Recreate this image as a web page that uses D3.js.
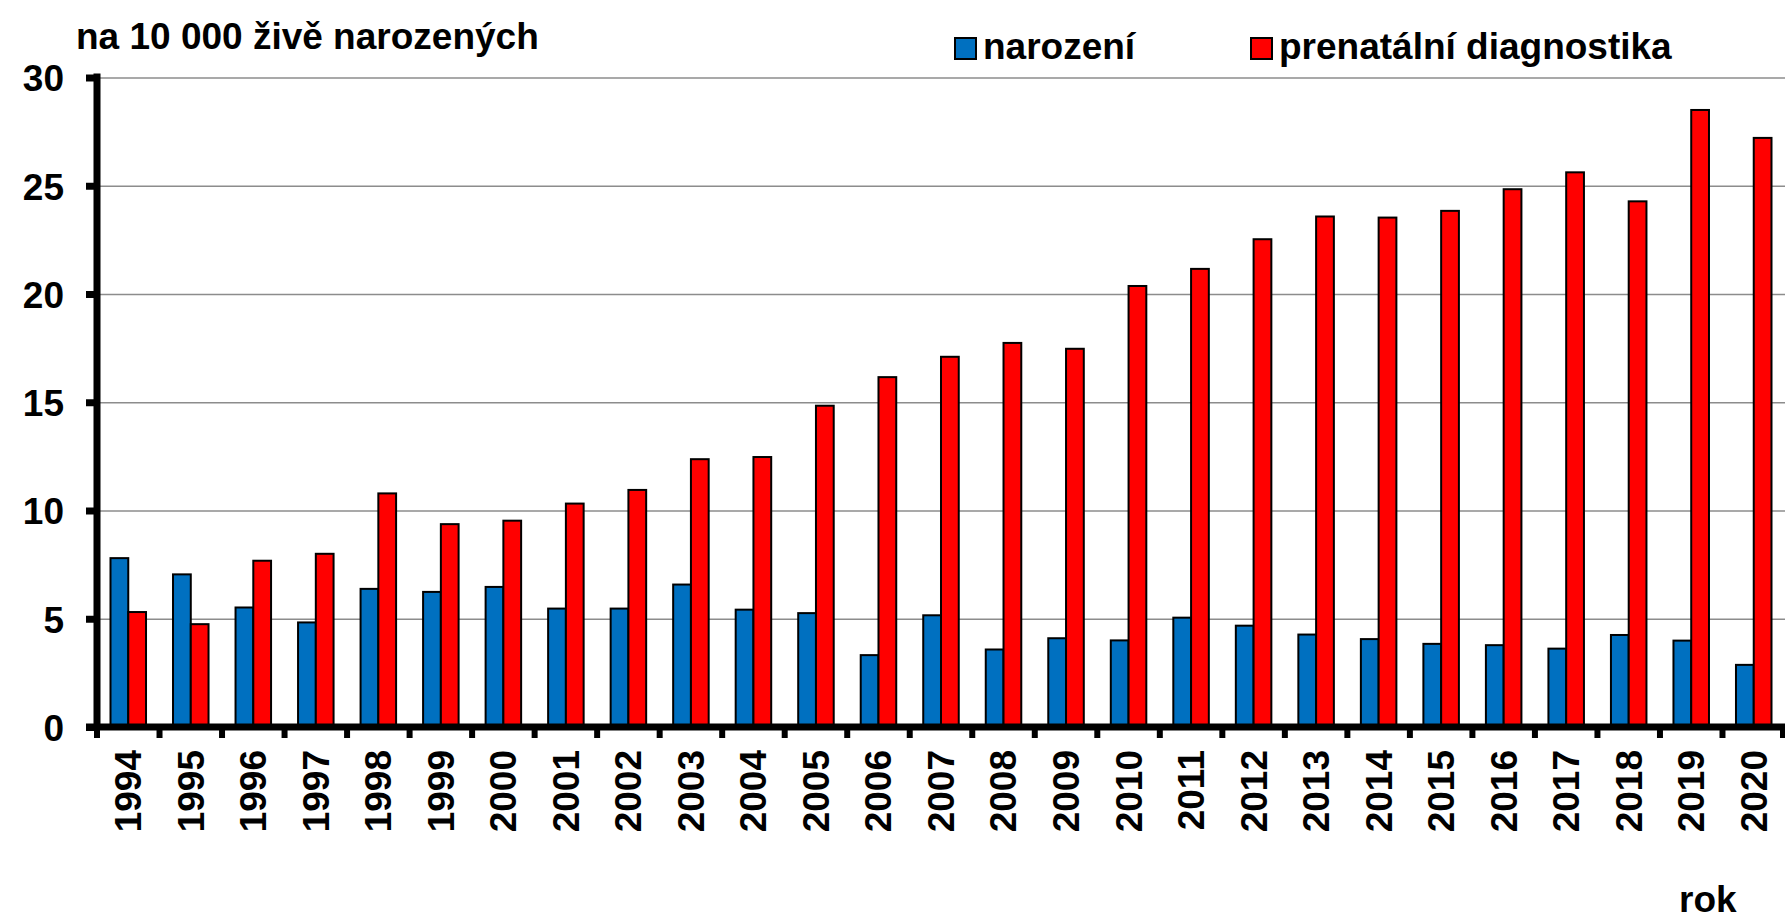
<!DOCTYPE html>
<html>
<head>
<meta charset="utf-8">
<script src="https://cdn.jsdelivr.net/npm/d3@7"></script>
<style>
  body { margin: 0; background: #fff; }
  text { font-family: "Liberation Sans", Arial, sans-serif; font-weight: bold; fill: #000; }
</style>
</head>
<body>
<div id="chart"></div>
<script>
// data
const years = ['1994', '1995', '1996', '1997', '1998', '1999', '2000', '2001', '2002', '2003',
    '2004', '2005', '2006', '2007', '2008', '2009', '2010', '2011', '2012', '2013',
    '2014', '2015', '2016', '2017', '2018', '2019', '2020'];
const narozeni = [7.8, 7.05, 5.52, 4.83, 6.38, 6.24, 6.47, 5.47, 5.47, 6.58,
    5.42, 5.26, 3.32, 5.16, 3.58, 4.1, 4.0, 5.05, 4.68, 4.27,
    4.06, 3.84, 3.78, 3.62, 4.25, 3.99, 2.87];
const prenatalni = [5.31, 4.75, 7.68, 8.0, 10.79, 9.37, 9.53, 10.32, 10.95, 12.37,
    12.47, 14.84, 16.16, 17.1, 17.74, 17.47, 20.37, 21.16, 22.53, 23.58,
    23.53, 23.84, 24.84, 25.62, 24.28, 28.5, 27.21];
const seriesNames = ['narození', 'prenatální diagnostika'];
const seriesColors = ['#0070C0', '#FF0000'];
const yTicks = [0, 5, 10, 15, 20, 25, 30];

const W = 1785, H = 923;
const plotLeft = 97, plotRight = 1785, plotTop = 77.5, plotBottom = 727;
const FONT = '37px';

const svg = d3.select('#chart')
    .append('svg')
    .attr('width', W)
    .attr('height', H);

const x0 = d3.scaleBand()
    .domain(years)
    .range([plotLeft, plotRight])
    .padding(0);

const x1 = d3.scaleBand()
    .domain([0, 1])
    .range([0, x0.bandwidth()])
    .paddingInner(0)
    .paddingOuter(0.76);

const y = d3.scaleLinear()
    .domain([0, 30])
    .range([plotBottom, plotTop]);

// grid lines
svg.append('g')
    .attr('class', 'grid')
    .attr('transform', 'translate(' + plotLeft + ',0)')
    .call(d3.axisLeft(y).tickValues(yTicks.slice(1)).tickSize(-(plotRight - plotLeft)).tickFormat(''))
    .call(g => g.select('.domain').remove())
    .call(g => g.selectAll('line').attr('stroke', '#8c8c8c').attr('stroke-width', 1.6));

// bars
const rows = years.map((yr, i) => ({ year: yr, values: [narozeni[i], prenatalni[i]] }));

svg.append('g')
    .selectAll('g')
    .data(rows)
    .join('g')
    .attr('transform', d => 'translate(' + x0(d.year) + ',0)')
    .selectAll('rect')
    .data(d => d.values.map((v, k) => ({ k, v })))
    .join('rect')
    .attr('x', d => x1(d.k))
    .attr('width', x1.bandwidth())
    .attr('y', d => y(d.v))
    .attr('height', d => y(0) - y(d.v))
    .attr('fill', d => seriesColors[d.k])
    .attr('stroke', '#000')
    .attr('stroke-width', 2);

// y axis
svg.append('g')
    .attr('transform', 'translate(' + plotLeft + ',0)')
    .call(d3.axisLeft(y).tickValues(yTicks).tickSize(11).tickSizeOuter(0).tickPadding(22))
    .call(g => g.select('.domain').attr('stroke', '#000').attr('stroke-width', 7)
        .attr('d', 'M0,' + (plotTop - 4) + 'V' + plotBottom))
    .call(g => g.selectAll('.tick line').attr('stroke', '#000').attr('stroke-width', 7))
    .call(g => g.selectAll('.tick text').style('font-size', FONT).attr('dy', '0.36em'));

// x axis: labels centred in categories
svg.append('g')
    .attr('transform', 'translate(0,' + plotBottom + ')')
    .call(d3.axisBottom(x0).tickSize(0).tickSizeOuter(0))
    .call(g => g.select('.domain').remove())
    .call(g => g.selectAll('.tick text')
        .style('font-size', FONT)
        .attr('transform', 'rotate(-90)')
        .attr('text-anchor', 'end')
        .attr('x', -23)
        .attr('y', 0)
        .attr('dy', '0.35em'));

// x axis line and boundary ticks
const xAxisG = svg.append('g');
xAxisG.append('line')
    .attr('x1', plotLeft - 11)
    .attr('x2', plotRight)
    .attr('y1', plotBottom)
    .attr('y2', plotBottom)
    .attr('stroke', '#000')
    .attr('stroke-width', 7);
xAxisG.selectAll('.xtick')
    .data(years.concat(['end']))
    .join('line')
    .attr('class', 'xtick')
    .attr('x1', d => d === 'end' ? plotRight - 2 : x0(d))
    .attr('x2', d => d === 'end' ? plotRight - 2 : x0(d))
    .attr('y1', plotBottom)
    .attr('y2', plotBottom + 11)
    .attr('stroke', '#000')
    .attr('stroke-width', 6);

// title and axis name
svg.append('text')
    .attr('x', 76)
    .attr('y', 49)
    .style('font-size', FONT)
    .text('na 10 000 živě narozených');

svg.append('text')
    .attr('x', 1679)
    .attr('y', 912)
    .style('font-size', FONT)
    .text('rok');

// legend
const legendX = [955, 1251];
const legend = svg.append('g');
seriesNames.forEach((name, k) => {
    legend.append('rect')
        .attr('x', legendX[k])
        .attr('y', 38)
        .attr('width', 21)
        .attr('height', 21)
        .attr('fill', seriesColors[k])
        .attr('stroke', '#000')
        .attr('stroke-width', 2);
    legend.append('text')
        .attr('x', legendX[k] + 28)
        .attr('y', 59)
        .style('font-size', FONT)
        .text(name);
});
</script>
</body>
</html>
